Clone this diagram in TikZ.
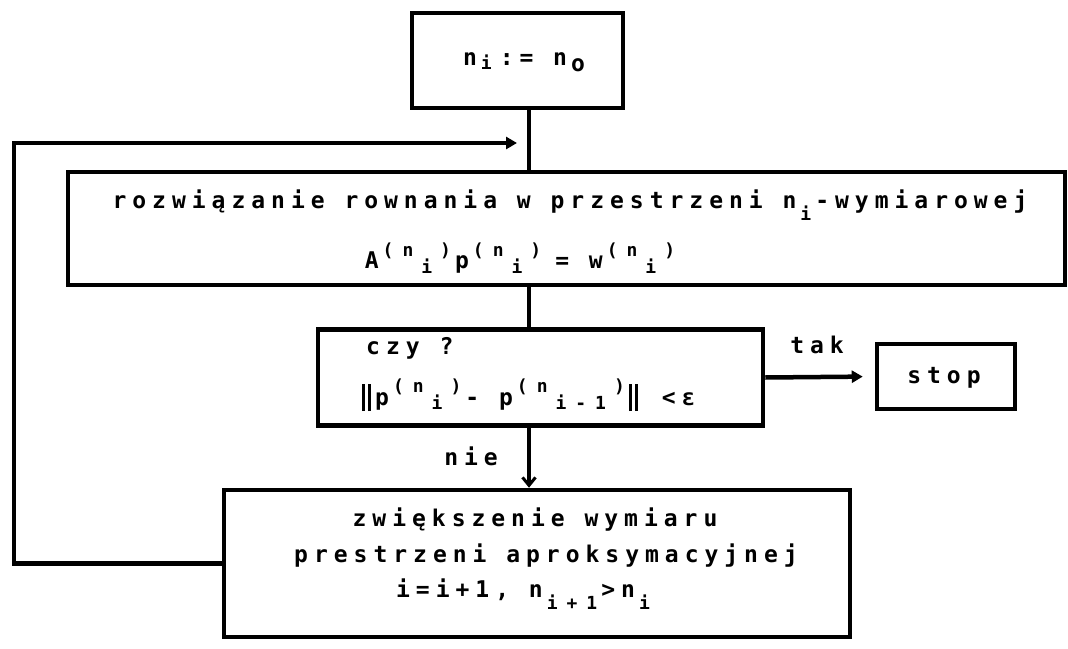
\documentclass[tikz,border=0pt]{standalone}
\usepackage{fontspec}
\usetikzlibrary{arrows.meta,calc}
\newfontfamily\dotfont[LetterSpace=26]{DejaVu Sans Mono Bold}
\newfontfamily\idxfont[LetterSpace=50]{DejaVu Sans Mono Bold}
% raised / lowered indices in the printer font
\newcommand\idx{\idxfont\fontsize{18}{18}\selectfont}
\newcommand\hi[1]{\kern4pt\raisebox{1.0ex}{\idx #1}\kern4pt}
\newcommand\lo[1]{\kern4pt\raisebox{-0.35ex}{\idx #1}\kern4pt}
\newcommand\lolo[1]{\kern4pt\raisebox{-1.0ex}{\idx #1}\kern4pt}
\newcommand\normbar{\rule[-6pt]{3pt}{27pt}\kern3pt\rule[-6pt]{3pt}{27pt}\kern4pt}
\tikzset{
  flowbox/.style={draw, line width=4.5pt, rectangle, inner sep=0pt, line join=miter},
  flowtext/.style={inner sep=0pt, font=\dotfont\fontsize{23}{27}\selectfont},
  flowline/.style={line width=4.5pt, line join=miter},
  headarrow/.style={flowline, -{Triangle[length=11pt,width=12pt]}},
  barbarrow/.style={flowline, -{Straight Barb[length=8pt,width=13pt,line width=3pt]}}
}
\begin{document}
\begin{tikzpicture}[x=1pt,y=-1pt]
\useasboundingbox (0,0) rectangle (1068,648);
\fill[white] (0,0) rectangle (1068,648);

% boxes
\node[flowbox, minimum width=211pt, minimum height=95pt] (init) at (517.5,60.5) {};
\node[flowbox, minimum width=997pt, minimum height=113pt] (solve) at (566.5,228.5) {};
\node[flowbox, minimum width=445pt, minimum height=96pt] (test) at (540.5,377.5) {};
\node[flowbox, minimum width=138pt, minimum height=65pt] (stop) at (946,376.5) {};
\node[flowbox, minimum width=626pt, minimum height=147pt] (grow) at (537,563.5) {};

% texts
\node[flowtext] (tinit) at (524,62) {n\lo{i}\kern4pt:= n\kern4pt\raisebox{-0.5ex}{o}};
\node[flowtext] (tsolveA) at (570,205) {rozwiązanie rownania w przestrzeni n\lolo{i}-wymiarowej};
\node[flowtext] (tsolveB) at (522,258) {A\hi{(n}\lo{i}\hi{)}p\hi{(n}\lo{i}\hi{)}\kern10pt= w\hi{(n}\lo{i}\hi{)}};
\node[flowtext, anchor=west] (ttestA) at (366,348) {czy ?};
\node[flowtext, anchor=west] (ttestB) at (362,395) {\normbar p\hi{(n}\lo{i}\hi{)}- p\hi{(n}\lo{i-1}\hi{)}\normbar{} <ε};
\node[flowtext] (tstop) at (944,378) {stop};
\node[flowtext] (ttak) at (817,345) {tak};
\node[flowtext] (tnie) at (471,456) {nie};
\node[flowtext] (tgrowA) at (535,520) {zwiększenie wymiaru};
\node[flowtext] (tgrowB) at (546,556) {prestrzeni aproksymacyjnej};
\node[flowtext] (tgrowC) at (525,594) {i=i+1, n\lolo{i+1}>n\lolo{i}};

% connectors
\coordinate (spine) at (529,0);
\coordinate (loopL) at (14,143);
\coordinate (loopT) at (517,143);
\draw[flowline] (init.south -| spine) -- (solve.north -| spine);
\draw[flowline] (solve.south -| spine) -- (test.north -| spine);
\draw[barbarrow] (test.south -| spine) -- (grow.north -| spine);
\draw[headarrow, shorten >=12pt] (test.east) -- (stop.west);
\draw[headarrow] (grow.west) -| (loopL) -- (loopT);
\end{tikzpicture}
\end{document}
